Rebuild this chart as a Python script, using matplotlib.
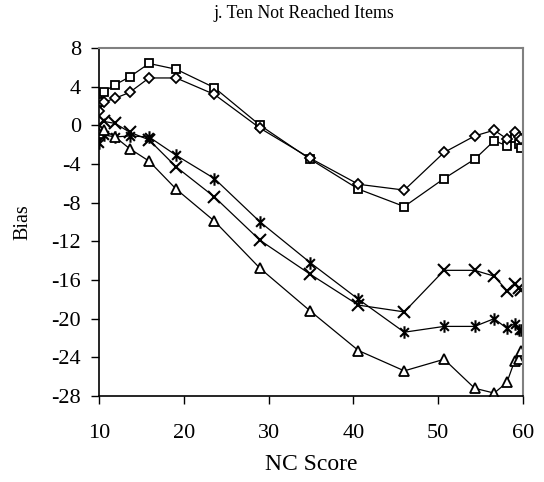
import matplotlib
matplotlib.use("Agg")
import matplotlib.pyplot as plt
from matplotlib.path import Path

plt.rcParams['font.family'] = ['Liberation Serif', 'DejaVu Serif']

nc_score = [10.0, 10.6, 11.9, 13.6, 15.9, 19.1, 23.6, 29.0, 34.9, 40.6, 46.0,
            50.7, 54.3, 56.6, 58.1, 59.0, 59.5, 59.8]

bias_square = [2.4, 3.5, 4.2, 5.0, 6.4, 5.8, 3.9, 0.0, -3.5, -6.6, -8.4,
               -5.5, -3.5, -1.6, -2.1, -1.3, -1.9, -2.3]
bias_diamond = [1.5, 2.4, 2.8, 3.4, 4.9, 4.9, 3.2, -0.3, -3.4, -6.1, -6.7,
                -2.8, -1.1, -0.5, -1.4, -0.7, -1.2, -1.4]
bias_x = [0.0, 0.4, 0.2, -0.7, -1.5, -4.3, -7.4, -11.9, -15.4, -18.6, -19.3,
          -15.0, -15.0, -15.6, -17.1, -16.4, -16.8, -17.0]
bias_star = [-1.8, -1.0, -1.2, -1.1, -1.2, -3.1, -5.5, -10.0, -14.2, -18.0, -21.4,
             -20.8, -20.8, -20.0, -21.0, -20.5, -21.2, -21.2]
bias_triangle = [-0.8, -0.5, -1.2, -2.4, -3.7, -6.6, -9.9, -14.8, -19.2, -23.3, -25.4,
                 -24.2, -27.2, -27.7, -26.6, -24.4, -24.2, -23.3]

x_ticks = [10, 20, 30, 40, 50, 60]
y_ticks = [8, 4, 0, -4, -8, -12, -16, -20, -24, -28]

# asterisk marker: x plus vertical bar
ast = Path([(-0.7, -0.7), (0.7, 0.7), (-0.7, 0.7), (0.7, -0.7), (0, -1), (0, 1)],
           [Path.MOVETO, Path.LINETO, Path.MOVETO, Path.LINETO, Path.MOVETO, Path.LINETO])

fig = plt.figure(figsize=(5.44, 4.82), dpi=100)
ax = fig.add_axes([99/544, 1-396/482, (523-99)/544, (396-48)/482])

lw = 0.9
ax.plot(nc_score, bias_square, color='black', lw=lw, marker='s', ms=6,
        mfc='white', mec='black', mew=1.3)
ax.plot(nc_score, bias_diamond, color='black', lw=lw, marker='D', ms=5.5,
        mfc='white', mec='black', mew=1.3)
ax.plot(nc_score, bias_x, color='black', lw=lw, marker='x', ms=8, mew=1.5)
ax.plot(nc_score, bias_star, color='black', lw=lw, marker=ast, ms=9, mew=1.5)
ax.plot(nc_score, bias_triangle, color='black', lw=lw, marker='^', ms=6.5,
        mfc='white', mec='black', mew=1.3)

ax.set_xlim(10, 60)
ax.set_ylim(-28, 8)
ax.set_xticks(x_ticks)
ax.set_yticks(y_ticks)
ax.set_yticklabels([str(v) for v in y_ticks])

for s in ['top', 'right']:
    ax.spines[s].set_color('#808080')
    ax.spines[s].set_linewidth(1.5)
for s in ['left', 'bottom']:
    ax.spines[s].set_color('black')
    ax.spines[s].set_linewidth(1.2)

ax.tick_params(axis='x', direction='out', length=6, width=1, pad=14, labelsize=16)
ax.tick_params(axis='y', direction='out', length=6, width=1, pad=7, labelsize=16)

fig.text(304/544, 1-14/482, 'j. Ten Not Reached Items', ha='center', va='center', fontsize=12.8)
fig.text(311/544, 1-465/482, 'NC Score', ha='center', va='center', fontsize=17)
fig.text(23/544, 1-222/482, 'Bias', ha='center', va='center', rotation=90, fontsize=14.5)

fig.savefig('out.png', dpi=100)
